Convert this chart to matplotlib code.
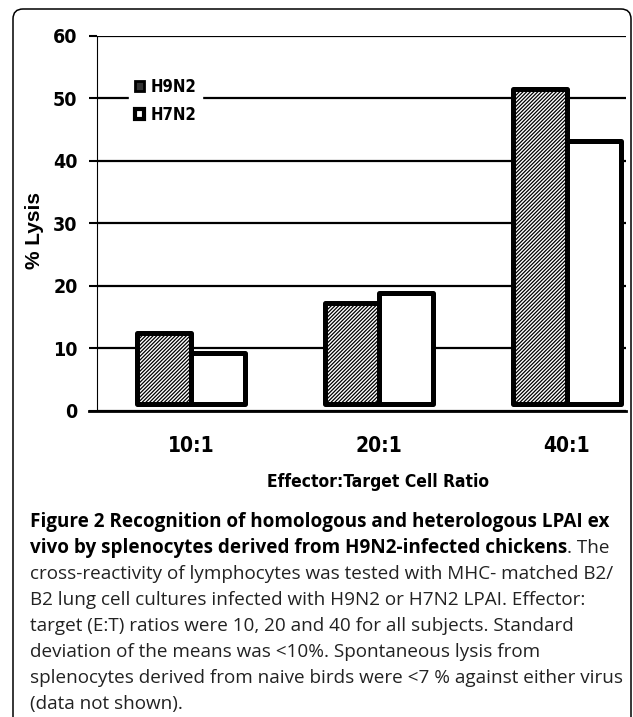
import matplotlib
matplotlib.use("Agg")
import matplotlib.pyplot as plt
from matplotlib.patches import FancyBboxPatch, Patch

# -----------------------------
# Data
# -----------------------------
ratios = ["10:1", "20:1", "40:1"]
h9n2 = [12.5, 17.2, 51.5]
h7n2 = [9.3, 18.9, 43.1]
series_names = ["H9N2", "H7N2"]
yticks = [0, 10, 20, 30, 40, 50, 60]

caption_lines = [
    ("Figure 2 Recognition of homologous and heterologous LPAI ex", ""),
    ("vivo by splenocytes derived from H9N2-infected chickens", ". The"),
    ("", "cross-reactivity of lymphocytes was tested with MHC- matched B2/"),
    ("", "B2 lung cell cultures infected with H9N2 or H7N2 LPAI. Effector:"),
    ("", "target (E:T) ratios were 10, 20 and 40 for all subjects. Standard"),
    ("", "deviation of the means was <10%. Spontaneous lysis from"),
    ("", "splenocytes derived from naive birds were <7 % against either virus"),
    ("", "(data not shown)."),
]

plt.rcParams["hatch.linewidth"] = 0.9
narrow = dict(family="DejaVu Sans", stretch="condensed", weight="bold")
W, H = 633, 717

fig = plt.figure(figsize=(W / 100, H / 100), dpi=100)
ax = fig.add_axes([97 / W, 1 - 411 / H, (626 - 97) / W, (411 - 35.5) / H])

# -----------------------------
# Bars
# -----------------------------
base = 1.1
bw = 0.285
x = range(len(ratios))
for i in x:
    ax.bar(i - bw / 2, h9n2[i] - base, bw, bottom=base, facecolor="white",
           edgecolor="black", hatch="/" * 9, linewidth=3.6, joinstyle="round", zorder=3)
    ax.bar(i + bw / 2, h7n2[i] - base, bw, bottom=base, facecolor="white",
           edgecolor="black", linewidth=3.6, joinstyle="round", zorder=3)

ax.set_xlim(-0.5, 2.314)
ax.set_ylim(0, 60)
ax.set_yticks(yticks)
ax.set_xticks(list(x))
ax.set_xticklabels(ratios, fontsize=15, **narrow)
ax.set_yticklabels([str(t) for t in yticks], fontsize=14, **narrow)
ax.tick_params(axis="y", length=6, width=1.5, pad=8)
ax.tick_params(axis="x", length=0, pad=18)

ax.yaxis.grid(True, color="black", linewidth=1.6, zorder=1)
ax.set_axisbelow(True)
for s in ["top", "right"]:
    ax.spines[s].set_visible(False)
ax.spines["left"].set_linewidth(0.8)
ax.spines["bottom"].set_linewidth(2.0)
ax.spines["bottom"].set_bounds(-0.543, 2.314)

ax.set_ylabel("% Lysis", fontfamily="Liberation Sans", fontweight="bold", fontsize=15)
ax.yaxis.set_label_coords(-0.100, 0.48)
ax.set_xlabel("Effector:Target Cell Ratio", fontsize=12.5, **narrow)
ax.xaxis.set_label_coords(0.532, -0.165)

# legend
handles = [Patch(facecolor="#333333", edgecolor="black", linewidth=2),
           Patch(facecolor="white", edgecolor="black", linewidth=3)]
leg = ax.legend(handles, series_names, loc="upper left",
                bbox_to_anchor=(24 / 529, 1 - 28 / 375.5), frameon=True,
                fancybox=False, edgecolor="white", framealpha=1,
                handlelength=0.55, handleheight=0.55, handletextpad=0.35,
                labelspacing=0.6, borderpad=0.35,
                prop=dict(size=12, **narrow))
leg.set_zorder(5)

# -----------------------------
# Frame and caption
# -----------------------------
frame = FancyBboxPatch((13, -30), 618, 738, boxstyle="round,pad=0,rounding_size=10",
                       transform=None, facecolor="none", edgecolor="black",
                       linewidth=1.1, clip_on=False)
fig.patches.append(frame)

fig.canvas.draw()
renderer = fig.canvas.get_renderer()
y0 = 527
for k, (bold_part, reg_part) in enumerate(caption_lines):
    y = 1 - (y0 + k * 26) / H
    xpos = 30 / W
    if bold_part:
        t = fig.text(xpos, y, bold_part, fontfamily="Open Sans", fontweight="bold",
                     fontsize=13.6, color="black", va="baseline")
        bb = t.get_window_extent(renderer)
        xpos = bb.x1 / W
    if reg_part:
        fig.text(xpos, y, reg_part, fontfamily="Open Sans", fontsize=13.6,
                 color="#222222", va="baseline")

fig.savefig("out.png", dpi=100)
